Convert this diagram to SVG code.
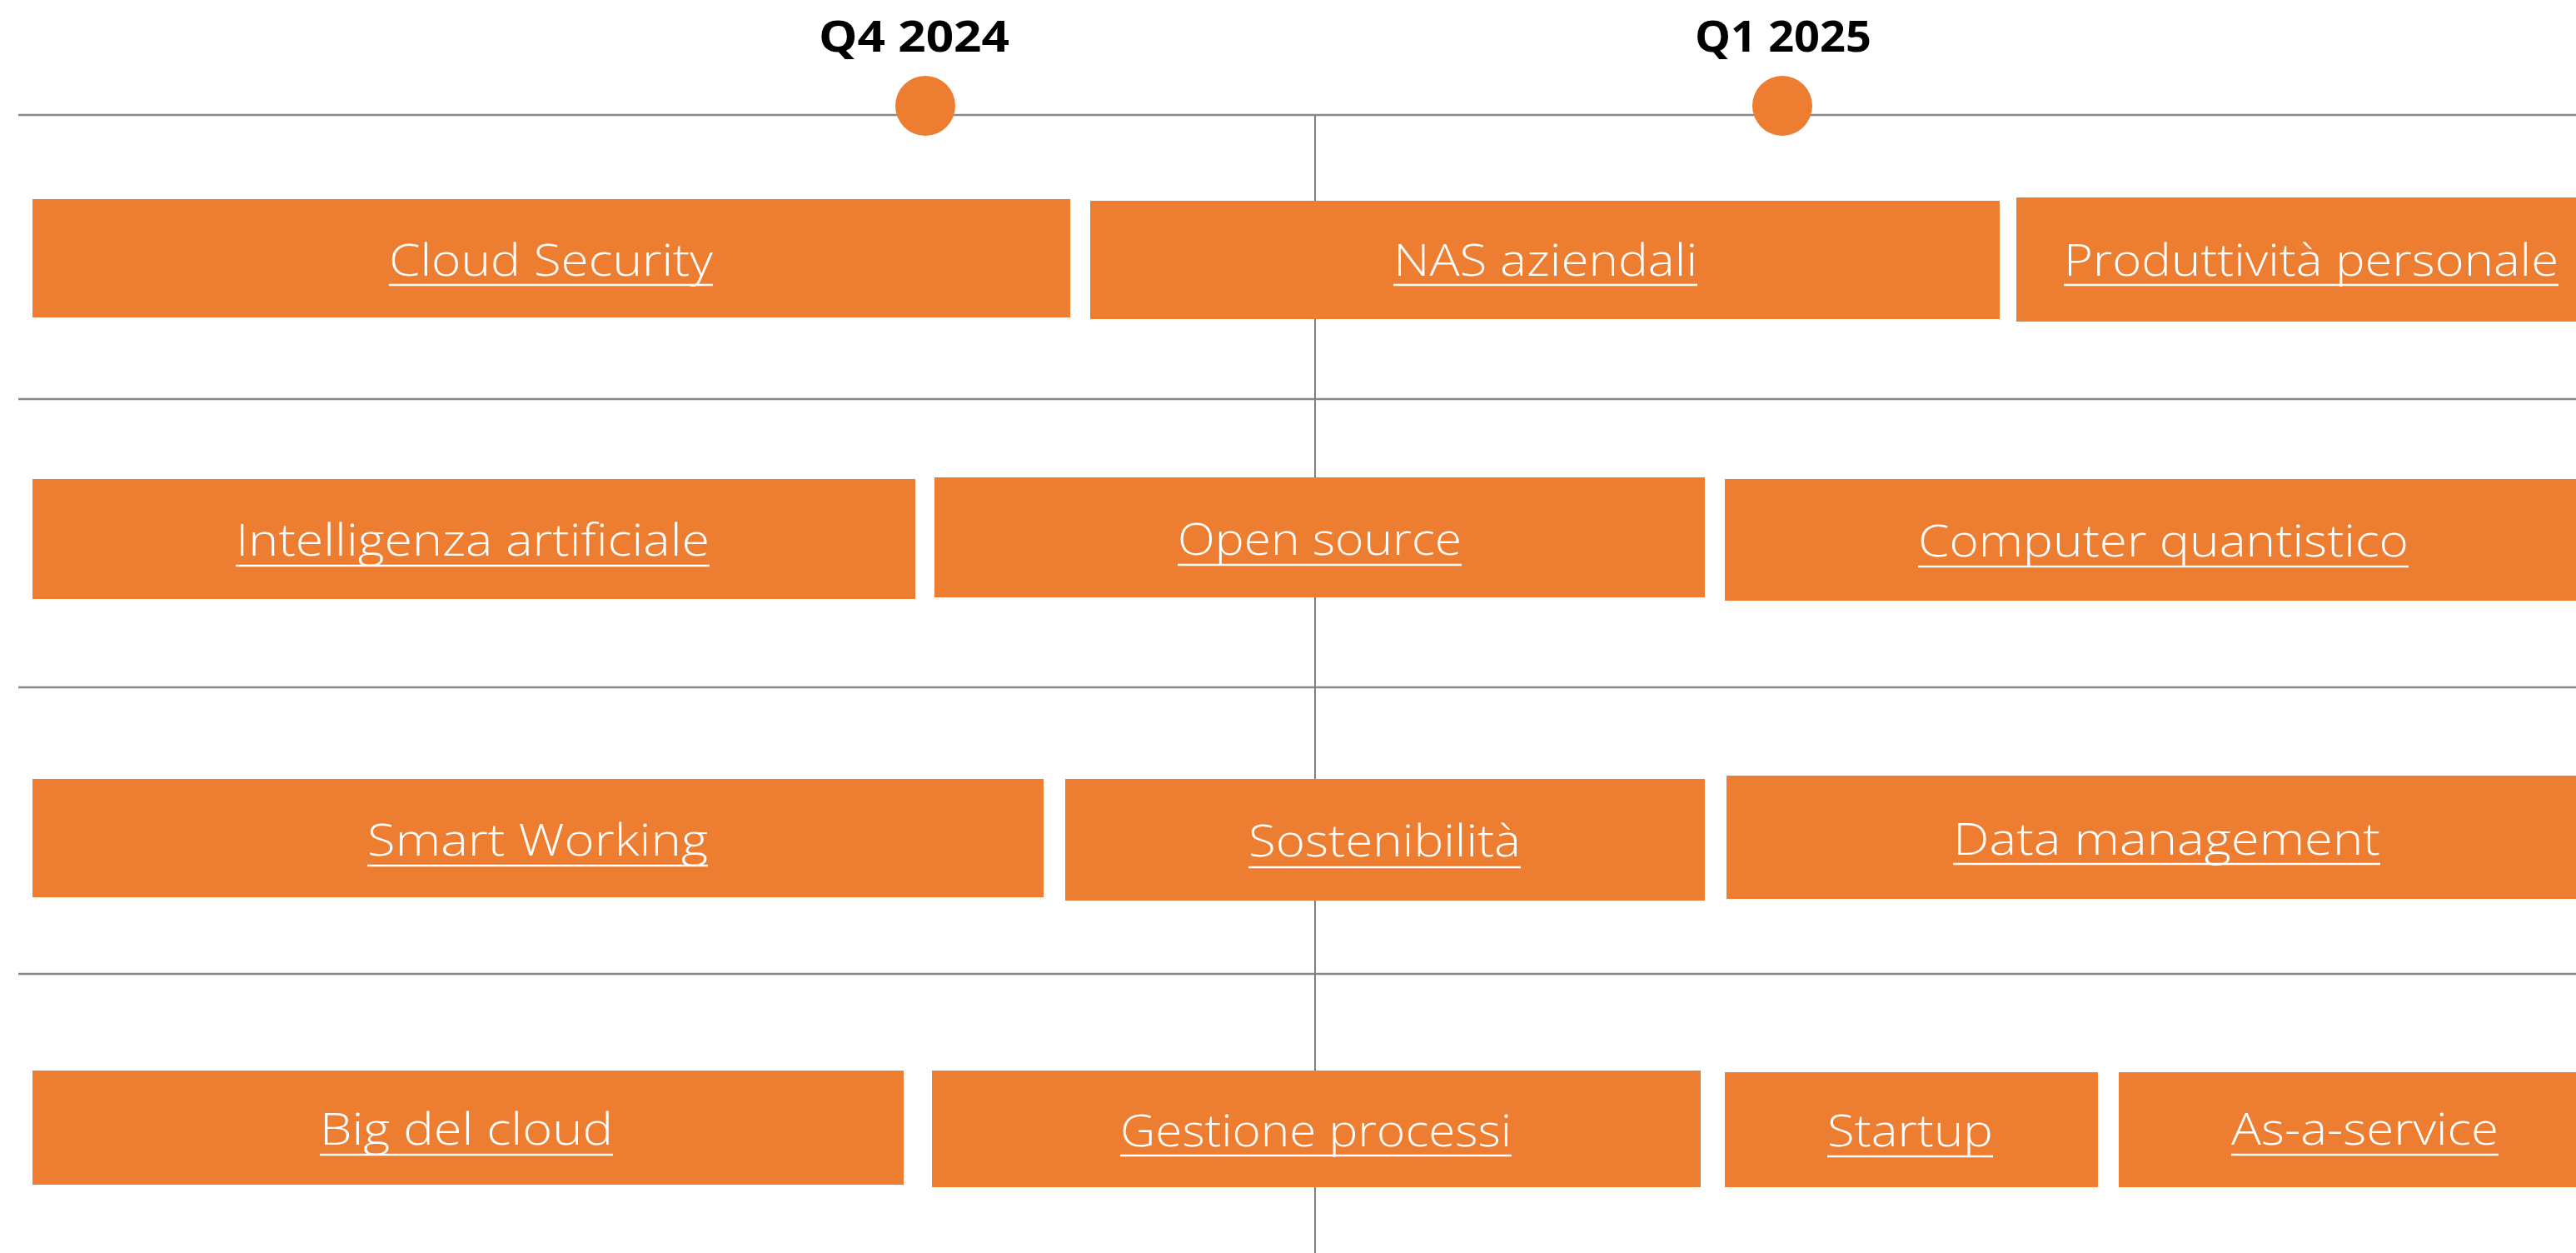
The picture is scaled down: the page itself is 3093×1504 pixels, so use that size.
<svg xmlns="http://www.w3.org/2000/svg" width="3093" height="1504" viewBox="0 0 3093 1504">
<style>
.box{fill:#ED7D31}
.lbl{fill:#FFFFFF;font-family:"Open Sans","Noto Sans","Liberation Sans",sans-serif;font-size:54px;font-weight:300;text-anchor:middle}
.ul{stroke:#FFFFFF;stroke-width:2.5}
.q{fill:#000000;font-family:"Open Sans","Noto Sans","Liberation Sans",sans-serif;font-size:52px;font-weight:700;text-anchor:middle}
.grid{stroke:#898989;stroke-width:2.5;fill:none}
.vline{stroke:#808080;stroke-width:2;fill:none}
.dot{fill:#ED7D31}
</style>
<rect x="0" y="0" width="3093" height="1504" fill="#FFFFFF"/>
<g id="connectors">
<line class="grid" x1="22" y1="138" x2="3093" y2="138"/>
<line class="grid" x1="22" y1="479" x2="3093" y2="479"/>
<line class="grid" x1="22" y1="825" x2="3093" y2="825"/>
<line class="grid" x1="22" y1="1169" x2="3093" y2="1169"/>
<line class="vline" x1="1579" y1="138" x2="1579" y2="1504"/>
</g>
<g id="milestone-q4-2024">
<text class="q" x="1097.5" y="62" textLength="229" lengthAdjust="spacingAndGlyphs">Q4 2024</text>
<circle class="dot" cx="1111" cy="127" r="36"/>
</g>
<g id="milestone-q1-2025">
<text class="q" x="2141" y="62" textLength="212" lengthAdjust="spacingAndGlyphs">Q1 2025</text>
<circle class="dot" cx="2140" cy="127" r="36"/>
</g>
<g id="cloud-security">
<rect class="box" x="39" y="239" width="1246" height="142"/>
<text class="lbl" x="661.5" y="331" textLength="389" lengthAdjust="spacingAndGlyphs">Cloud Security</text>
<line class="ul" x1="467" y1="342" x2="856" y2="342"/>
</g>
<g id="nas-aziendali">
<rect class="box" x="1309" y="241" width="1092" height="142"/>
<text class="lbl" x="1855.5" y="331" textLength="365" lengthAdjust="spacingAndGlyphs">NAS aziendali</text>
<line class="ul" x1="1673" y1="342" x2="2038" y2="342"/>
</g>
<g id="produttivita-personale">
<rect class="box" x="2421" y="237" width="720" height="149"/>
<text class="lbl" x="2775" y="331" textLength="594" lengthAdjust="spacingAndGlyphs">Produttività personale</text>
<line class="ul" x1="2478" y1="342" x2="3072" y2="342"/>
</g>
<g id="intelligenza-artificiale">
<rect class="box" x="39" y="575" width="1060" height="144"/>
<text class="lbl" x="567.5" y="667" textLength="569" lengthAdjust="spacingAndGlyphs">Intelligenza artificiale</text>
<line class="ul" x1="283" y1="679" x2="852" y2="679"/>
</g>
<g id="open-source">
<rect class="box" x="1122" y="573" width="925" height="144"/>
<text class="lbl" x="1584.5" y="666" textLength="341" lengthAdjust="spacingAndGlyphs">Open source</text>
<line class="ul" x1="1414" y1="678" x2="1755" y2="678"/>
</g>
<g id="computer-quantistico">
<rect class="box" x="2071" y="575" width="1060" height="146"/>
<text class="lbl" x="2597.5" y="668" textLength="589" lengthAdjust="spacingAndGlyphs">Computer quantistico</text>
<line class="ul" x1="2303" y1="680" x2="2892" y2="680"/>
</g>
<g id="smart-working">
<rect class="box" x="39" y="935" width="1214" height="142"/>
<text class="lbl" x="645.5" y="1027" textLength="409" lengthAdjust="spacingAndGlyphs">Smart Working</text>
<line class="ul" x1="441" y1="1039" x2="850" y2="1039"/>
</g>
<g id="sostenibilita">
<rect class="box" x="1279" y="935" width="768" height="146"/>
<text class="lbl" x="1662.5" y="1028" textLength="327" lengthAdjust="spacingAndGlyphs">Sostenibilità</text>
<line class="ul" x1="1499" y1="1041" x2="1826" y2="1041"/>
</g>
<g id="data-management">
<rect class="box" x="2073" y="931" width="1060" height="148"/>
<text class="lbl" x="2601.5" y="1026" textLength="513" lengthAdjust="spacingAndGlyphs">Data management</text>
<line class="ul" x1="2345" y1="1037" x2="2858" y2="1037"/>
</g>
<g id="big-del-cloud">
<rect class="box" x="39" y="1285" width="1046" height="137"/>
<text class="lbl" x="560" y="1374" textLength="352" lengthAdjust="spacingAndGlyphs">Big del cloud</text>
<line class="ul" x1="384" y1="1386" x2="736" y2="1386"/>
</g>
<g id="gestione-processi">
<rect class="box" x="1119" y="1285" width="923" height="140"/>
<text class="lbl" x="1580" y="1376" textLength="470" lengthAdjust="spacingAndGlyphs">Gestione processi</text>
<line class="ul" x1="1345" y1="1387" x2="1815" y2="1387"/>
</g>
<g id="startup">
<rect class="box" x="2071" y="1287" width="448" height="138"/>
<text class="lbl" x="2293.5" y="1376" textLength="199" lengthAdjust="spacingAndGlyphs">Startup</text>
<line class="ul" x1="2194" y1="1388" x2="2393" y2="1388"/>
</g>
<g id="as-a-service">
<rect class="box" x="2544" y="1287" width="600" height="138"/>
<text class="lbl" x="2839.5" y="1374" textLength="321" lengthAdjust="spacingAndGlyphs">As-a-service</text>
<line class="ul" x1="2679" y1="1386" x2="3000" y2="1386"/>
</g>
</svg>
